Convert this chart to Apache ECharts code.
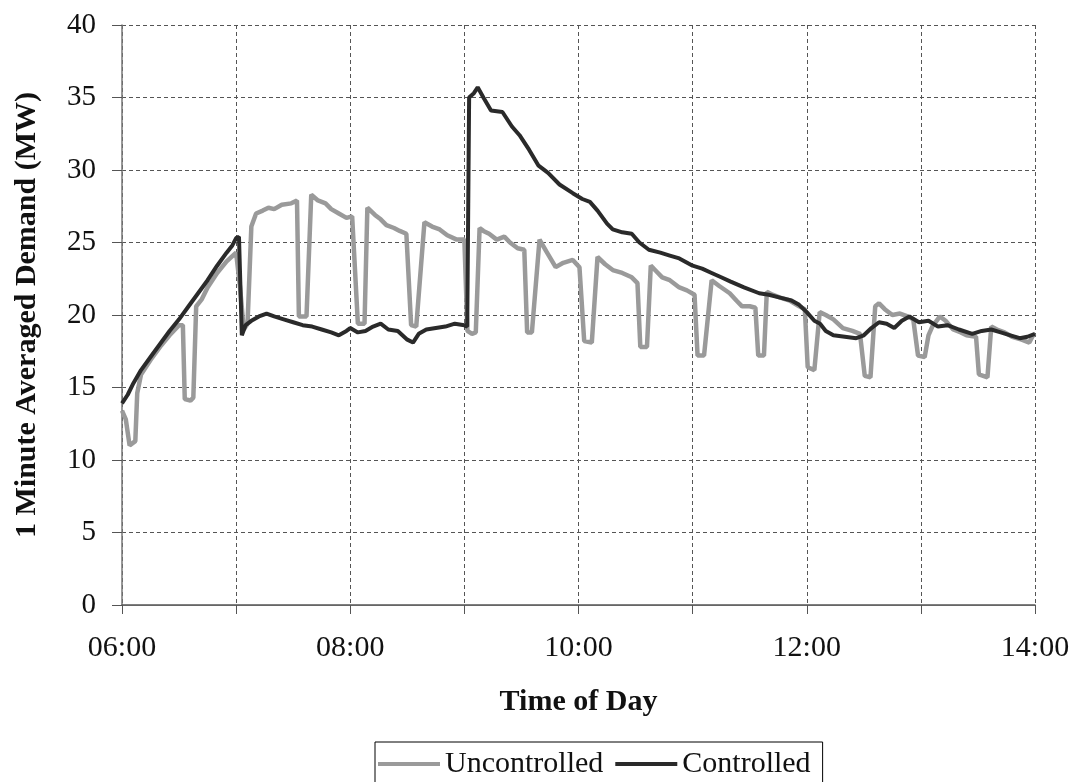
<!DOCTYPE html>
<html>
<head>
<meta charset="utf-8">
<style>
html,body{margin:0;padding:0;background:#fff;}
#chart{width:1075px;height:782px;}
</style>
<script src="https://cdn.jsdelivr.net/npm/echarts@6/dist/echarts.min.js"></script>
</head>
<body>
<div id="chart"></div>
<script>
// minutes after 06:00
const hourLabels = ['06:00','','08:00','','10:00','','12:00','','14:00'];
const yTicks = [0,5,10,15,20,25,30,35,40];

const uncontrolledMin = [0,2,4,5,7,8,10,15,20,25,30,32,33,36,37.5,39,42,45,50,55,60,62,64,66,68,70.5,74,77,80,84,89,92,93,97,99.5,103,107,110,114,118,121,124,127.5,129,133,136,139,143,146,149.5,152,154.7,159,163,167,171,176,180,181.6,184,186,188,190,193,197,201,204,208,211.5,213,215.5,219.5,223,228,232,237,240.5,243,247,250,254,258,263,268,271,272.5,276,278,281,284,288,293,297,301,302.6,306,310,314,319.5,323,326,330,333,334.5,337.5,339,342,346,351,356,359,360.5,364,366.8,370,374,379,384,388,390.5,393.5,396,398,401,405,409,413,416,418.5,422,424,426,430,433,437,441,444,449,450.5,455,457,460,464,468,473,477,479,480];
const uncontrolledMW = [13.4,12.8,11.0,10.9,11.3,14.6,15.9,16.9,17.8,18.6,19.3,19.3,14.2,14.1,14.3,20.6,21.1,21.9,22.9,23.7,24.3,22.0,19.0,19.4,26.1,27.0,27.2,27.4,27.3,27.6,27.7,27.9,19.9,19.9,28.3,27.9,27.7,27.3,27.0,26.7,26.8,19.4,19.4,27.4,26.9,26.6,26.2,26.0,25.8,25.6,19.3,19.2,26.4,26.1,25.9,25.5,25.2,25.2,18.9,18.7,18.8,26.0,25.8,25.6,25.2,25.4,25.0,24.6,24.5,18.8,18.8,25.2,24.4,23.3,23.6,23.8,23.3,18.2,18.1,24.0,23.5,23.1,22.9,22.6,22.2,17.8,17.8,23.4,23.0,22.6,22.4,21.9,21.7,21.4,17.2,17.2,22.4,22.0,21.5,21.0,20.6,20.6,20.5,17.2,17.2,21.6,21.4,21.2,21.0,20.6,20.4,16.4,16.2,20.2,20.0,19.7,19.1,18.9,18.7,15.8,15.7,20.6,20.8,20.4,20.0,20.1,19.9,19.7,17.2,17.1,18.6,19.2,19.9,19.6,19.0,18.8,18.6,18.5,15.9,15.7,19.2,19.0,18.8,18.5,18.3,18.1,18.6,18.5];

const controlledMin = [0,3,6,10,15,20,25,30,35,40,45,50,55,58,60,61.5,63,65,68,72,76,80,85,90,95,100,105,110,114,118,120,124,128,132,136,140,145,150,153,156,160,165,170,175,180,181.5,182.5,185,187,190,194,200,205,209,214,219,224,230,237,242,246,250,255,258,263,268,272,277,283,288,293,300,305,310,315,320,327,335,340,346,352,356,360,364,367,370,374,380,386,390,394,398,402,406,410,414,419,424,429,434,440,447,452,457,462,467,472,476,480];
const controlledMW = [13.9,14.5,15.3,16.2,17.1,18.0,18.9,19.7,20.6,21.5,22.4,23.4,24.3,24.8,25.3,25.4,18.6,19.3,19.6,19.9,20.1,19.9,19.7,19.5,19.3,19.2,19.0,18.8,18.6,18.9,19.1,18.8,18.9,19.2,19.4,19.0,18.9,18.3,18.1,18.7,19.0,19.1,19.2,19.4,19.3,19.2,35.0,35.3,35.7,35.0,34.1,34.0,33.0,32.4,31.4,30.3,29.8,29.0,28.4,28.0,27.8,27.2,26.3,25.9,25.7,25.6,25.0,24.5,24.3,24.1,23.9,23.4,23.2,22.9,22.6,22.3,21.9,21.5,21.4,21.2,21.0,20.7,20.2,19.6,19.4,18.9,18.6,18.5,18.4,18.6,19.1,19.5,19.4,19.1,19.6,19.9,19.5,19.6,19.2,19.3,19.0,18.7,18.9,19.0,18.8,18.6,18.4,18.5,18.7];

const pair = (xs, ys) => xs.map((x, i) => [x, ys[i]]);

const chart = echarts.init(document.getElementById('chart'), null, {renderer: 'canvas'});
const serif = 'Liberation Serif';
const gridDash = {color: '#555', width: 1, type: [4, 3]};

chart.setOption({
  backgroundColor: '#fff',
  animation: false,
  grid: {left: 122, right: 40, top: 25, bottom: 177, containLabel: false},
  legend: {
    data: ['Uncontrolled', 'Controlled'],
    left: 375, top: 742,
    icon: 'rect', itemWidth: 62, itemHeight: 4, itemGap: 12,
    borderColor: '#000', borderWidth: 1, borderRadius: 0,
    padding: [7, 12, 10, 3],
    textStyle: {fontFamily: serif, fontSize: 30, color: '#111'}
  },
  xAxis: [{
    type: 'value', min: 0, max: 480, interval: 60,
    name: 'Time of Day', nameLocation: 'middle', nameGap: 82,
    nameTextStyle: {fontFamily: serif, fontSize: 30, fontWeight: 'bold', color: '#111'},
    axisLine: {show: true, onZero: false, lineStyle: {color: '#555', width: 1.5}},
    axisTick: {show: true, length: 9, lineStyle: {color: '#555'}},
    axisLabel: {
      margin: 28, fontFamily: serif, fontSize: 30, color: '#111',
      formatter: v => hourLabels[Math.round(v / 60)] || ''
    },
    splitLine: {show: true, lineStyle: gridDash}
  }, {
    type: 'value', position: 'top', min: 0, max: 480,
    axisLine: {show: true, lineStyle: {color: '#666', width: 1.2}},
    axisTick: {show: false}, axisLabel: {show: false}, splitLine: {show: false}
  }],
  yAxis: {
    type: 'value', min: yTicks[0], max: yTicks[yTicks.length - 1], interval: 5,
    name: '1 Minute Averaged Demand (MW)', nameLocation: 'middle', nameGap: 80, nameRotate: 90,
    nameTextStyle: {fontFamily: serif, fontSize: 30, fontWeight: 'bold', color: '#111'},
    axisLine: {show: true, lineStyle: {color: '#777', width: 1.5}},
    axisTick: {show: true, length: 10, lineStyle: {color: '#555'}},
    axisLabel: {margin: 26, fontFamily: serif, fontSize: 29, color: '#111'},
    splitLine: {show: true, lineStyle: gridDash}
  },
  series: [{
    name: 'Uncontrolled', type: 'line', showSymbol: false, symbol: 'none',
    data: pair(uncontrolledMin, uncontrolledMW),
    itemStyle: {color: '#9a9a9a'},
    lineStyle: {color: '#9a9a9a', width: 4.5}, z: 2
  }, {
    name: 'Controlled', type: 'line', showSymbol: false, symbol: 'none',
    data: pair(controlledMin, controlledMW),
    itemStyle: {color: '#2a2a2a'},
    lineStyle: {color: '#2a2a2a', width: 4}, z: 3
  }]
});
</script>
</body>
</html>
